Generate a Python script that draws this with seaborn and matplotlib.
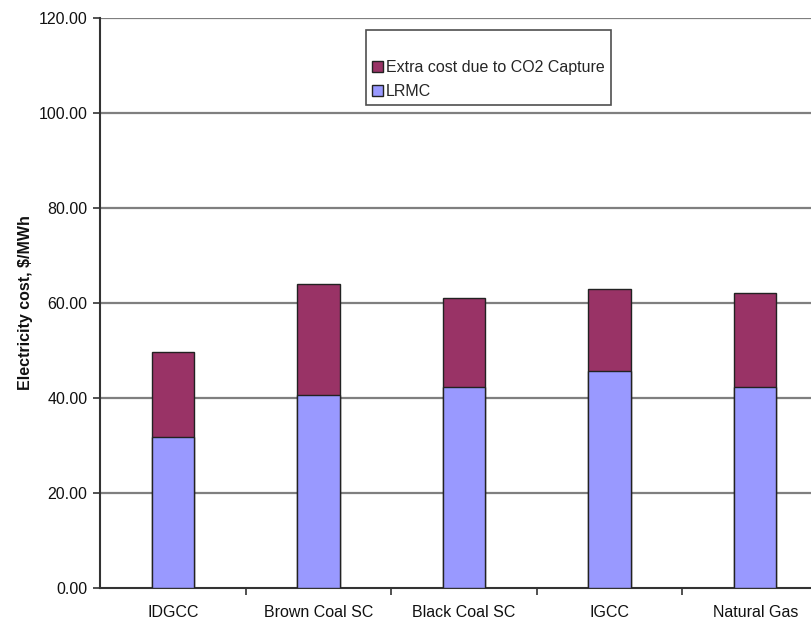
import matplotlib
matplotlib.use("Agg")
import matplotlib.pyplot as plt
import matplotlib.ticker as mticker
from matplotlib.patches import Patch
import seaborn as sns
import pandas as pd
import numpy as np

categories = ["IDGCC", "Brown Coal SC", "Black Coal SC", "IGCC", "Natural Gas"]
lrmc = [31.7, 40.6, 42.3, 45.7, 42.3]
extra_co2 = [17.9, 23.3, 18.7, 17.3, 19.8]
y_ticks = [0, 20, 40, 60, 80, 100, 120]

totals = [a + b for a, b in zip(lrmc, extra_co2)]
df = pd.DataFrame({"category": categories, "LRMC": lrmc, "total": totals})

sns.set_theme(style="white")
plt.rcParams["font.family"] = ["Liberation Sans", "DejaVu Sans"]

col_extra = "#993366"
col_lrmc = "#9999FF"

fig = plt.figure(figsize=(8.12, 6.21), dpi=100)
ax = fig.add_axes([100 / 812, 33 / 621, 728 / 812, 570 / 621])

for y in y_ticks[1:]:
    ax.axhline(y, color="#7f7f7f", lw=1.6, zorder=0)

sns.barplot(data=df, x="category", y="total", color=col_extra, width=0.29,
            edgecolor="#222222", linewidth=1.0, saturation=1, ax=ax, zorder=2)
sns.barplot(data=df, x="category", y="LRMC", color=col_lrmc, width=0.29,
            edgecolor="#222222", linewidth=1.0, saturation=1, ax=ax, zorder=3)

ax.set_xlim(-0.5, 4.5)
ax.set_ylim(0, 120)
ax.set_yticks(y_ticks)
ax.yaxis.set_major_formatter(mticker.FormatStrFormatter("%.2f"))
ax.set_xticks(np.arange(len(categories)))
ax.set_xticklabels(categories)
ax.set_xticks(np.arange(len(categories)) + 0.5, minor=True)
ax.tick_params(axis="x", which="major", length=0, pad=12, labelsize=11.5, colors="#111111")
ax.tick_params(axis="x", which="minor", length=5, width=1.2, color="#333333", direction="out", bottom=True)
ax.tick_params(axis="y", which="major", length=5, width=1.2, color="#333333", direction="out",
               left=True, pad=4, labelsize=11.5, labelcolor="#111111")

for s in ["top", "right"]:
    ax.spines[s].set_visible(False)
for s in ["left", "bottom"]:
    ax.spines[s].set_color("#333333")
    ax.spines[s].set_linewidth(1.5)

ax.set_xlabel("")
ax.set_ylabel("Electricity cost, $/MWh", fontsize=11.5, fontweight="bold", labelpad=4, color="#111111")

handles = [Patch(facecolor=col_extra, edgecolor="#222222", lw=1.0),
           Patch(facecolor=col_lrmc, edgecolor="#222222", lw=1.0)]
leg = fig.legend(handles, ["Extra cost due to CO2 Capture", "LRMC"],
                 loc="upper left", bbox_to_anchor=(366 / 812, 1 - 30 / 621),
                 title=" ", title_fontsize=11.5, fontsize=11.5,
                 handlelength=0.65, handleheight=0.65, handletextpad=0.2,
                 borderpad=0.4, labelspacing=0.55, fancybox=False, frameon=True,
                 borderaxespad=0)
leg.get_frame().set_edgecolor("#222222")
leg.get_frame().set_linewidth(1.2)
leg.get_frame().set_facecolor("white")

fig.savefig("out.png", dpi=100)
